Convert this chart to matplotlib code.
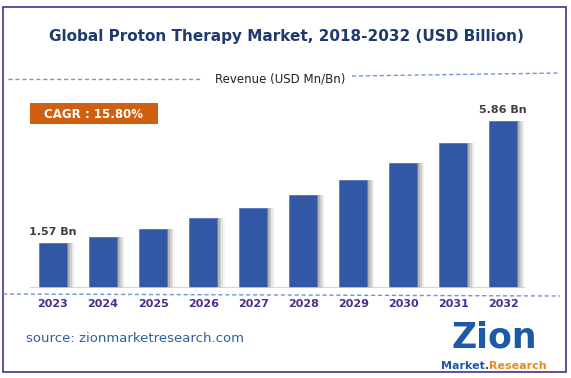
import matplotlib.pyplot as plt
from matplotlib.patches import Rectangle
from matplotlib.lines import Line2D

# data
years = ["2023", "2024", "2025", "2026", "2027", "2028", "2029", "2030", "2031", "2032"]
revenue = [1.57, 1.80, 2.08, 2.45, 2.82, 3.25, 3.79, 4.38, 5.08, 5.86]
labels = {0: "1.57 Bn", 9: "5.86 Bn"}

W, H = 571, 378
fig = plt.figure(figsize=(W / 100, H / 100), dpi=100)
fig.patch.set_facecolor("white")


def fx(px):
    return px / W


def fy(py):
    return 1 - py / H


# purple frame
fig.add_artist(Rectangle((fx(3), fy(372)), fx(563), (369 - 4) / H, transform=fig.transFigure,
                         fill=False, edgecolor="#4B2C8F", linewidth=1.2))

# title
fig.text(fx(286), fy(37), "Global Proton Therapy Market, 2018-2032 (USD Billion)", ha="center", va="center",
         fontsize=11, fontweight="bold", color="#1F3A6E")

# revenue subtitle with dashed lines
fig.add_artist(Line2D([fx(8), fx(200)], [fy(79), fy(79)], transform=fig.transFigure,
                      color="#6F94D6", linestyle=(0, (3, 2)), linewidth=1))
fig.add_artist(Line2D([fx(352), fx(560)], [fy(76), fy(73)], transform=fig.transFigure,
                      color="#6F94D6", linestyle=(0, (3, 2)), linewidth=1))
fig.text(fx(280), fy(79), "Revenue (USD Mn/Bn)", ha="center", va="center", fontsize=8.5, color="#222222")

# axes
ax = fig.add_axes([fx(30), fy(288), fx(495), (288 - 100) / H])
x_pos = list(range(len(years)))
for k, a in enumerate([0.30, 0.22, 0.14, 0.07]):
    ax.bar([x + 0.06 + 0.03 * k for x in x_pos], revenue, width=0.56, color="#808080", alpha=a,
           linewidth=0, zorder=1)
ax.bar(x_pos, revenue, width=0.56, color="#3257A5", edgecolor="#5A7CC0", linewidth=0.6, zorder=2)
for i, t in labels.items():
    ax.text(i, revenue[i] + 0.22, t, ha="center", va="bottom", fontsize=8, fontweight="bold",
            color="#404040")
ax.set_xlim(-0.46, 9.44)
ax.set_ylim(0, 6.6)
ax.axhline(0, color="#D0D0D0", linewidth=1.2, zorder=3)
ax.axis("off")

# year labels
for i, y in enumerate(years):
    fig.text(fx(53 + 50.1 * i), fy(304), y, ha="center", va="center", fontsize=8, fontweight="bold",
             color="#4B2C8F")

# dashed line under bars
fig.add_artist(Line2D([fx(3), fx(560)], [fy(294), fy(296)], transform=fig.transFigure,
                      color="#6F94D6", linestyle=(0, (3, 2)), linewidth=1))

# CAGR box
fig.add_artist(Rectangle((fx(30), fy(124)), fx(128), 21 / H, transform=fig.transFigure,
                         facecolor="#D0600F", edgecolor="none"))
fig.text(fx(94), fy(114), "CAGR : 15.80%", ha="center", va="center", fontsize=8.5, fontweight="bold",
         color="white")

# source
fig.text(fx(26), fy(338), "source: zionmarketresearch.com", ha="left", va="center", fontsize=9.5,
         color="#2F6096")

# logo
fig.text(fx(494), fy(338), "Zion", ha="center", va="center", fontsize=25, fontweight="bold",
         color="#1D5AA6")
fig.text(fx(489), fy(366), "Market.", ha="right", va="center", fontsize=8, fontweight="bold",
         color="#1D5AA6")
fig.text(fx(489), fy(366), "Research", ha="left", va="center", fontsize=8, fontweight="bold",
         color="#E88A1A")

fig.savefig("out.png", dpi=100)
